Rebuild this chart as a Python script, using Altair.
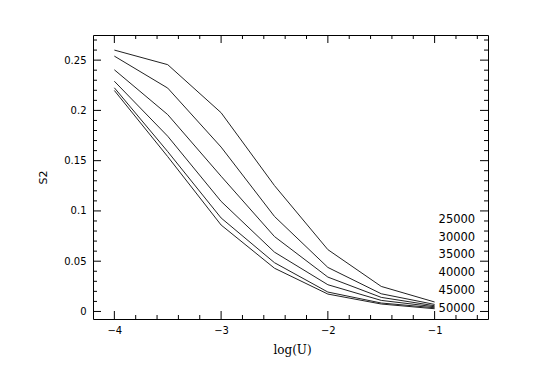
import altair as alt
import pandas as pd

# ---- data ----
log_u = [-4.0, -3.5, -3.0, -2.5, -2.0, -1.5, -1.0]
series_names = ["25000", "30000", "35000", "40000", "45000", "50000"]
s2_25000 = [0.2600, 0.2455, 0.1977, 0.1252, 0.0615, 0.0249, 0.0094]
s2_30000 = [0.2540, 0.2222, 0.1635, 0.0945, 0.0438, 0.0176, 0.0070]
s2_35000 = [0.2404, 0.1958, 0.1345, 0.0745, 0.0342, 0.0140, 0.0057]
s2_40000 = [0.2290, 0.1743, 0.1095, 0.0590, 0.0266, 0.0110, 0.0047]
s2_45000 = [0.2225, 0.1590, 0.0930, 0.0485, 0.0193, 0.0084, 0.0037]
s2_50000 = [0.2198, 0.1540, 0.0860, 0.0430, 0.0173, 0.0074, 0.0027]
all_series = [s2_25000, s2_30000, s2_35000, s2_40000, s2_45000, s2_50000]

label_x = -0.62
label_y = [0.0913, 0.0735, 0.0557, 0.0378, 0.0200, 0.0022]

x_major = [-4, -3, -2, -1]
x_minor = [-3.8, -3.6, -3.4, -3.2, -2.8, -2.6, -2.4, -2.2,
           -1.8, -1.6, -1.4, -1.2, -0.8, -0.6]
y_major = [0.0, 0.05, 0.10, 0.15, 0.20, 0.25]
y_minor = [0.01, 0.02, 0.03, 0.04, 0.06, 0.07, 0.08, 0.09,
           0.11, 0.12, 0.13, 0.14, 0.16, 0.17, 0.18, 0.19,
           0.21, 0.22, 0.23, 0.24, 0.26, 0.27]

# ---- tables ----
rows = []
for name, vals in zip(series_names, all_series):
    for xv, yv in zip(log_u, vals):
        rows.append({"logU": xv, "S2": yv, "T": name})
lines_df = pd.DataFrame(rows)
labels_df = pd.DataFrame({"logU": [label_x] * len(series_names), "S2": label_y, "T": series_names})
xmaj_df = pd.DataFrame({"logU": x_major})
xmin_df = pd.DataFrame({"logU": x_minor})
ymaj_df = pd.DataFrame({"S2": y_major})
ymin_df = pd.DataFrame({"S2": y_minor})

W, H = 395, 284
MAJ, MIN = 8, 4
xs = alt.Scale(domain=[-4.2, -0.5], nice=False, zero=False)
ys = alt.Scale(domain=[-0.0075, 0.275], nice=False, zero=False)

x_axis = alt.Axis(values=x_major, format="~g", ticks=False, domain=False, grid=False,
                  labelFont="DejaVu Sans", labelFontSize=10, labelColor="black", labelPadding=6,
                  title="log(U)", titleFont="DejaVu Serif", titleFontSize=12,
                  titleFontWeight="normal", titleColor="black",
                  titleX=199, titleY=30, titleBaseline="middle", titleAlign="center")
y_axis = alt.Axis(values=y_major, format="~g", ticks=False, domain=False, grid=False,
                  labelFont="DejaVu Sans", labelFontSize=10, labelColor="black", labelPadding=7,
                  title="S2", titleFont="DejaVu Sans", titleFontSize=11,
                  titleFontWeight="normal", titleColor="black",
                  titleX=-50, titleY=142, titleBaseline="middle", titleAlign="center",
                  titleAngle=270)

X = alt.X("logU:Q", scale=xs, axis=x_axis, title="log(U)")
Y = alt.Y("S2:Q", scale=ys, axis=y_axis, title="S2")

lines = alt.Chart(lines_df).mark_line(color="#222222", strokeWidth=1).encode(
    x=X, y=Y, detail="T:N",
)

labels = alt.Chart(labels_df).mark_text(
    align="right", baseline="middle", font="DejaVu Sans", fontSize=11.5, color="black"
).encode(x=X, y=Y, text="T:N")

def xticks(df, length):
    bottom = alt.Chart(df).mark_rule(color="black", strokeWidth=1).encode(
        x=X, y=alt.value(H), y2=alt.value(H - length))
    top = alt.Chart(df).mark_rule(color="black", strokeWidth=1).encode(
        x=X, y=alt.value(0), y2=alt.value(length))
    return [bottom, top]

def yticks(df, length):
    left = alt.Chart(df).mark_rule(color="black", strokeWidth=1).encode(
        y=Y, x=alt.value(0), x2=alt.value(length))
    right = alt.Chart(df).mark_rule(color="black", strokeWidth=1).encode(
        y=Y, x=alt.value(W), x2=alt.value(W - length))
    return [left, right]

layers = [lines, labels] + xticks(xmaj_df, MAJ) + xticks(xmin_df, MIN) \
    + yticks(ymaj_df, MAJ) + yticks(ymin_df, MIN)

chart = alt.layer(*layers).properties(
    width=W, height=H,
    autosize=alt.AutoSizeParams(type="none"),
    padding={"left": 85, "top": 27, "right": 37, "bottom": 55},
).configure_view(stroke="black", strokeWidth=1)

chart.save("out.html", embed_options={"renderer": "svg", "actions": False})
